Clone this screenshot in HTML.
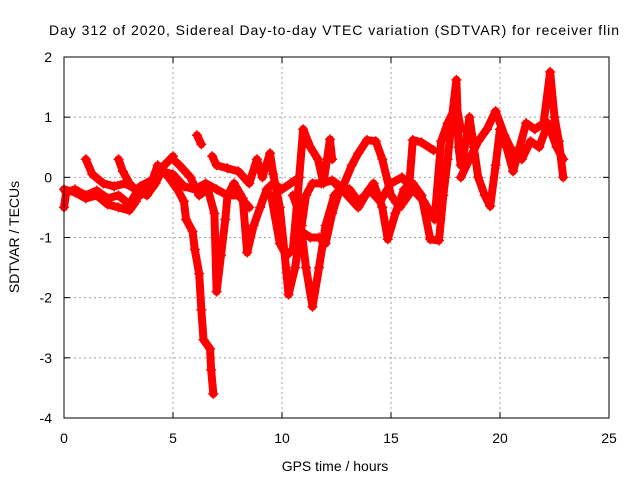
<!DOCTYPE html>
<html><head><meta charset="utf-8"><style>
body{margin:0;background:#fff}
svg{display:block;font-family:"Liberation Sans",sans-serif}
</style></head><body>
<svg id="chart" width="640" height="480">
<rect width="640" height="480" fill="#fff"/>
<text x="334" y="35" text-anchor="middle" font-size="14" textLength="570">Day 312 of 2020, Sidereal Day-to-day VTEC variation (SDTVAR) for receiver flin</text>
<g id="grid"></g>
<g id="series"></g>
<rect x="64" y="57" width="545" height="361" fill="none" stroke="#000" stroke-width="1"/>
<g id="ticks"></g>
<text x="335" y="471" text-anchor="middle" font-size="14">GPS time / hours</text>
<text transform="translate(19,237) rotate(-90)" text-anchor="middle" font-size="14">SDTVAR / TECUs</text>
</svg>
<script>
const xTicks=[0,5,10,15,20,25];
const yTicks=[2,1,0,-1,-2,-3,-4];
const track1=[[0,-0.5],[0.1,-0.25],[0.5,-0.2],[1,-0.3],[1.5,-0.22],[2,-0.35],[2.5,-0.3],[3,-0.45],[3.5,-0.15],[4,-0.05],[4.5,0.1],[5,0.05],[5.5,-0.15],[6,-0.2],[6.5,-0.1],[7,-0.2],[7.5,-0.3],[8,-0.3],[8.5,-0.5]];
const track2=[[0,-0.2],[0.5,-0.25],[1,-0.35],[1.5,-0.3],[2,-0.45],[2.5,-0.5],[3,-0.55],[3.3,-0.4]];
const track3=[[1,0.3],[1.3,0.05],[1.8,-0.1],[2.3,-0.15],[2.8,-0.1],[3.3,-0.2],[3.8,-0.3],[4.2,-0.1],[4.6,0.2],[5,0.35]];
const track4=[[2.5,0.3],[2.7,0.1],[3,-0.1],[3.5,-0.3],[4,-0.1],[4.3,0.2],[4.8,0],[5.2,-0.2],[5.5,-0.4],[5.6,-0.7],[5.9,-0.9],[6,-1.2],[6.2,-1.6],[6.3,-2.2],[6.4,-2.7],[6.7,-2.85],[6.75,-3.2],[6.85,-3.6]];
const track5=[[6.1,0.7],[6.3,0.55]];
const track6=[[5,0.3],[5.3,0.2],[5.8,0],[6.2,-0.3],[6.6,-0.2],[6.9,-0.6],[7,-1.9],[7.2,-1.3],[7.4,-0.7],[7.5,-0.3],[7.8,-0.1],[8.2,-0.35],[8.4,-1.25],[8.7,-0.8],[9,-0.5],[9.3,-0.2],[9.6,-0.1],[10,-0.2],[10.4,-0.1],[10.8,0]];
const track7=[[6.8,0.35],[7,0.2],[7.5,0.15],[8,0.1],[8.5,-0.1],[8.85,0.3],[9.1,0],[9.45,0.4],[9.6,0.05],[9.9,-0.5],[10.1,-1.2],[10.3,-1.95],[10.6,-1.5],[10.9,-0.8],[11.1,-0.3],[11.4,-0.1],[11.8,-0.1],[12.3,-0.05],[12.7,-0.2]];
const track8=[[9.5,-0.3],[9.9,-1.1],[10.2,-1.3],[10.5,-1.2],[10.7,-0.4],[10.97,0.8],[11.3,0.5],[11.65,0.3],[11.9,-0.1],[12.2,0.63],[12.3,0.3]];
const track9=[[10.9,-0.9],[11.3,-1],[11.7,-1],[12,-1.1],[12.3,-0.6],[12.7,-0.15],[13.1,-0.2],[13.5,-0.4],[13.8,-0.3],[14.2,-0.1],[14.6,-0.5],[14.85,-1.03],[15.2,-0.6],[15.6,-0.2],[16,-0.1],[16.4,-0.3],[16.8,-1.03],[17.2,-1.05],[17.4,-0.3],[17.6,0.3],[17.8,1],[18,1.62],[18.1,0.5],[18.2,0.2]];
const track10=[[10.5,-0.3],[10.8,-0.6],[11.1,-1.5],[11.4,-2.15],[11.7,-1.5],[12,-0.8],[12.4,-0.3],[12.8,-0.15],[13.2,0.2],[13.5,0.4],[13.9,0.62],[14.3,0.6],[14.6,0.3],[15,-0.3],[15.4,-0.5],[15.8,-0.3],[16,0.62],[16.4,0.58],[16.95,0.45]];
const track11=[[12.5,-0.1],[13,-0.3],[13.5,-0.5],[14,-0.2],[14.5,-0.4],[15,-0.1],[15.5,0],[16,-0.2],[16.5,-0.4],[17,-0.7],[17.3,0.6],[17.6,0.9],[18,1.2],[18.2,0.8]];
const track12=[[18.3,0.3],[18.6,1],[18.8,0.5],[19,0],[19.3,-0.3],[19.55,-0.48],[19.8,0.2],[20,0.8],[20.3,0.5],[20.6,0.1],[20.9,0.5],[21.2,0.9],[21.6,0.8],[22,0.9],[22.3,1.75],[22.5,1],[22.7,0.6],[22.9,0]];
const track13=[[18.2,0],[18.6,0.3],[19,0.6],[19.4,0.8],[19.8,1.1],[20.2,0.7],[20.6,0.4],[21,0.3],[21.4,0.6],[21.8,0.5],[22.2,0.9],[22.6,0.5],[22.9,0.3]];
const tracks=[track1,track2,track3,track4,track5,track6,track7,track8,track9,track10,track11,track12,track13];

const NS='http://www.w3.org/2000/svg';
const X0=64,X1=609,Y0=418,Y1=57;
function sx(t){return X0+(t-0)/(25-0)*(X1-X0);}
function sy(v){return Y0-(v-(-4))/(2-(-4))*(Y0-Y1);}
function mk(tag,attrs,parent){const e=document.createElementNS(NS,tag);for(const k in attrs)e.setAttribute(k,attrs[k]);parent.appendChild(e);return e;}
const grid=document.getElementById('grid'),ticks=document.getElementById('ticks'),ser=document.getElementById('series');
xTicks.forEach(t=>{
  const x=sx(t);
  if(t>0&&t<25){const l=mk('line',{x1:x,x2:x,y1:Y1,y2:Y0,stroke:'#a0a0a0','stroke-dasharray':'2,3'},grid);
  
  }
  const tk=mk('line',{x1:x,x2:x,y1:Y0,y2:Y0-6,stroke:'#000'},ticks);
  
  
  const tk2=mk('line',{x1:x,x2:x,y1:Y1,y2:Y1+6,stroke:'#000'},ticks);
  
  
  const tx=mk('text',{x:x,y:443,'text-anchor':'middle','font-size':14},ticks);tx.textContent=t;
  
  
});
yTicks.forEach(v=>{
  const y=sy(v);
  if(v>-4&&v<2){const l=mk('line',{x1:X0,x2:X1,y1:y,y2:y,stroke:'#a0a0a0','stroke-dasharray':'2,3'},grid);
  
  }
  const tk=mk('line',{x1:X0,x2:X0+6,y1:y,y2:y,stroke:'#000'},ticks);
  
  
  const tk2=mk('line',{x1:X1,x2:X1-6,y1:y,y2:y,stroke:'#000'},ticks);
  
  
  const tx=mk('text',{x:52,y:y+5,'text-anchor':'end','font-size':14},ticks);tx.textContent=v;
  
  
});
tracks.forEach((tr,i)=>{
  const g=mk('g',{},ser);
  
  
  const pl=mk('polyline',{points:tr.map(p=>sx(p[0])+','+sy(p[1])).join(' '),fill:'none',stroke:'#ff0000','stroke-width':8,'stroke-linejoin':'round','stroke-linecap':'round'},g);
  
  
  tr.forEach(p=>{
    const x=sx(p[0]),y=sy(p[1]);
    const m=mk('path',{d:`M${x-5},${y}H${x+5}M${x},${y-5}V${y+5}`,stroke:'#ff0000','stroke-width':1.5},g);
    
    
  });
});
</script>
</body></html>
